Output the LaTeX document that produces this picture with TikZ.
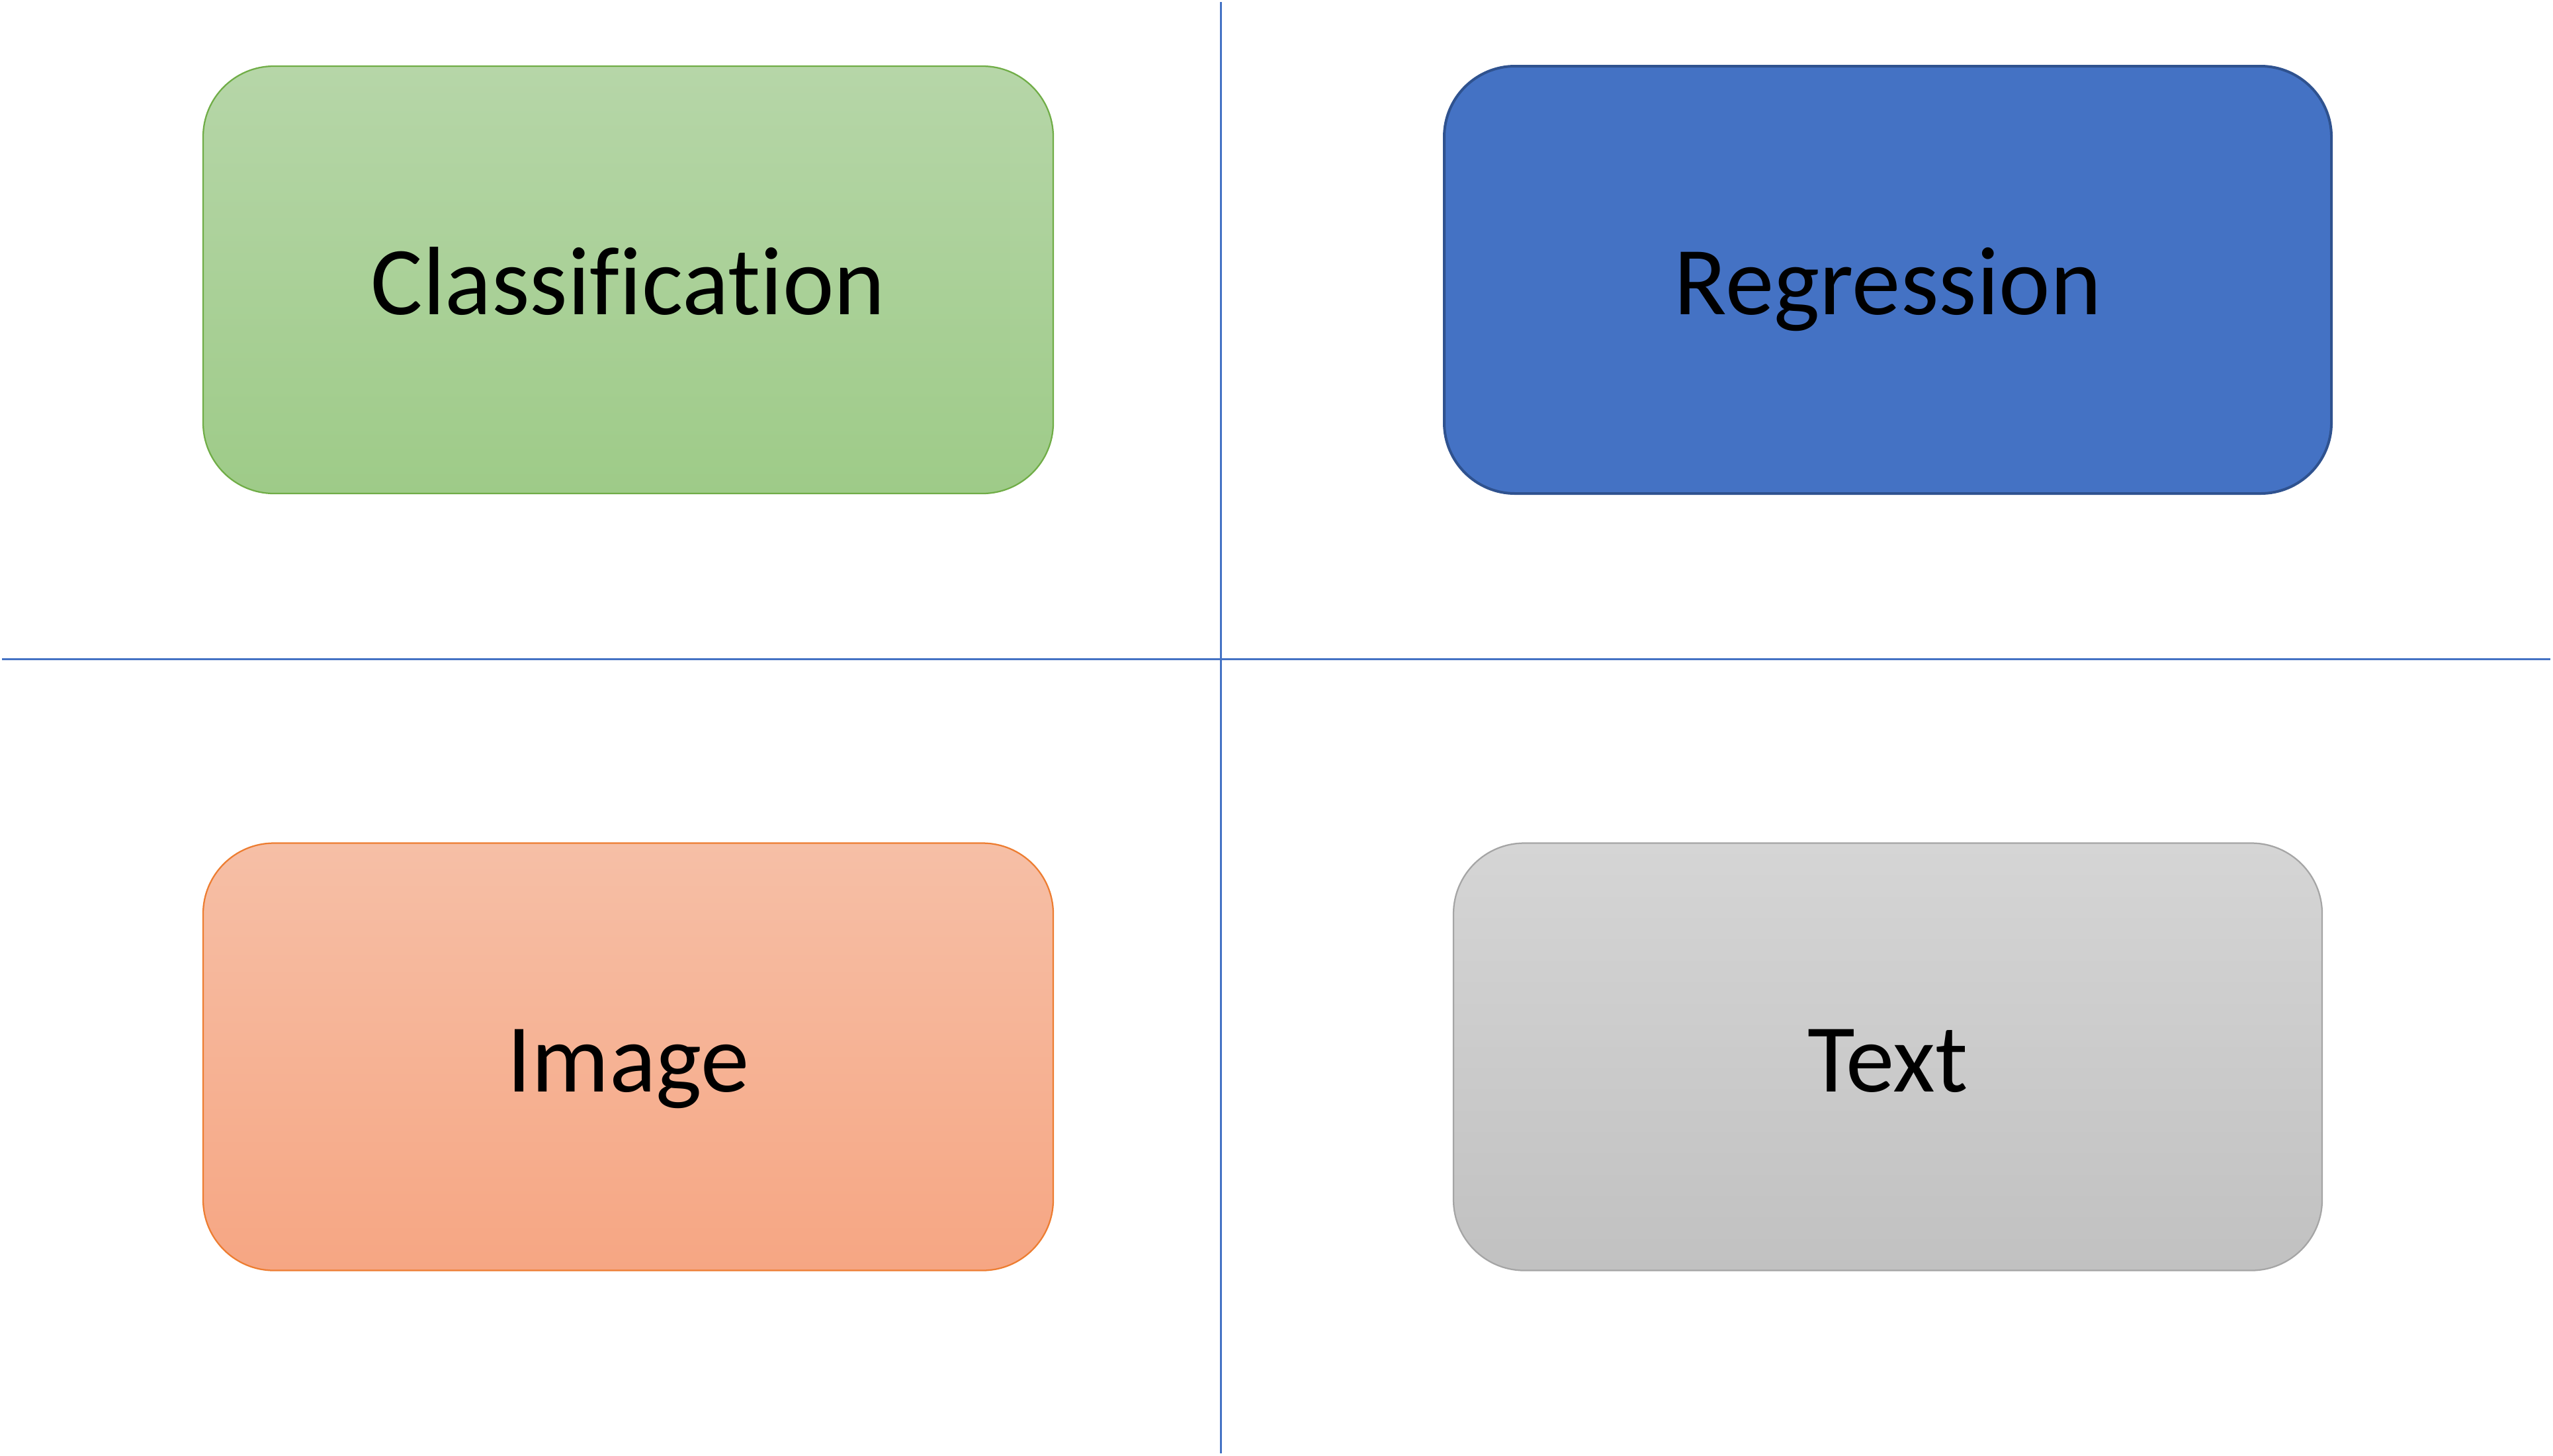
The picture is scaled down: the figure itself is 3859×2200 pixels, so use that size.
\documentclass[tikz,border=0pt]{standalone}
\usepackage{fontspec}
\setmainfont{Carlito}[Ligatures={NoCommon,NoContextual,NoRequired}]
\usepackage{tikz}
\usetikzlibrary{shapes,backgrounds}
\definecolor{divblue}{HTML}{4472C4}
\definecolor{regfill}{HTML}{4472C4}
\definecolor{regline}{HTML}{2F528F}

\begin{document}
\begin{tikzpicture}[x=0.2pt,y=-0.2pt,
                    box/.style={rectangle,rounded corners=21.4pt,minimum height=129.2pt,
                                inner sep=0pt,text height=21pt,text depth=0pt,
                                font=\fontsize{29.4}{35}\selectfont,text=black},
                    divider/.style={draw=divblue,line width=0.6pt}]
  \useasboundingbox (0,0) rectangle (3859,2200);

  \node[box,minimum width=257pt,draw={rgb,255:red,112;green,173;blue,71},line width=0.45pt,
        top color={rgb,255:red,182;green,214;blue,168},bottom color={rgb,255:red,158;green,203;blue,136}]
        (class) at (949.5,423) {Classification};
  \node[box,minimum width=268.2pt,draw=regline,line width=0.8pt,fill=regfill]
        (regr) at (2853.5,423) {Regression};
  \node[box,minimum width=257pt,draw={rgb,255:red,237;green,125;blue,49},line width=0.45pt,
        top color={rgb,255:red,246;green,191;blue,166},bottom color={rgb,255:red,246;green,166;blue,131}]
        (image) at (949.5,1597.5) {Image};
  \node[box,minimum width=262.6pt,draw={rgb,255:red,165;green,165;blue,165},line width=0.45pt,
        top color={rgb,255:red,213;green,213;blue,213},bottom color={rgb,255:red,193;green,193;blue,193}]
        (text) at (2853.5,1597.5) {Text};

  \coordinate (vtop) at (1845,3);
  \coordinate (vbot) at (1845,2197);
  \coordinate (hleft) at (3,996);
  \coordinate (hright) at (3855,996);
  \path[divider] (vtop) -- (vbot)
                 (hleft) -- (hright);
\end{tikzpicture}
\end{document}
